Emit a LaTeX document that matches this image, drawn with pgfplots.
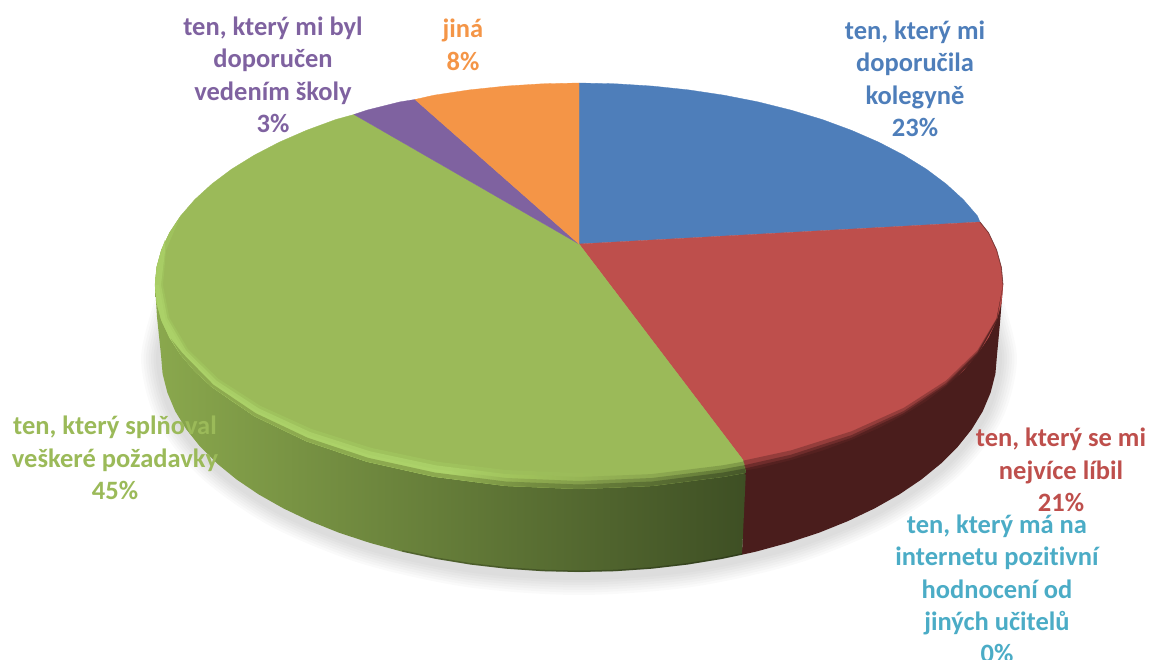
\documentclass[border=0pt]{standalone}
\usepackage{pgfplots}
\pgfplotsset{compat=1.18}
\usepackage{fontspec}
\setmainfont{Carlito}[Ligatures=NoCommon]
\definecolor{cblue}{HTML}{4E7EBA}
\definecolor{cred}{HTML}{BE4F4C}
\definecolor{cgreen}{HTML}{9BBA59}
\definecolor{cpurple}{HTML}{7F62A0}
\definecolor{corange}{HTML}{F49547}
\definecolor{cteal}{HTML}{4BACC6}
\definecolor{rside}{HTML}{4A1D1C}
\definecolor{gl}{HTML}{8AA84D}
\definecolor{gm}{HTML}{6C863D}
\definecolor{gr}{HTML}{3E4F24}
\pgfdeclarehorizontalshading{rimA}{100bp}{rgb(0bp)=(0.625,0.76,0.365); rgb(50bp)=(0.625,0.76,0.365); rgb(56bp)=(0.615,0.745,0.355); rgb(63bp)=(0.608,0.729,0.349); rgb(100bp)=(0.608,0.729,0.349)}
\pgfdeclarehorizontalshading{rimB}{100bp}{rgb(0bp)=(0.65,0.796,0.388); rgb(50bp)=(0.665,0.812,0.404); rgb(56bp)=(0.627,0.761,0.357); rgb(63bp)=(0.576,0.690,0.329); rgb(75bp)=(0.498,0.604,0.282); rgb(100bp)=(0.498,0.604,0.282)}
\pgfdeclarehorizontalshading{rimC}{100bp}{rgb(0bp)=(0.663,0.812,0.4); rgb(50bp)=(0.675,0.824,0.412); rgb(56bp)=(0.565,0.678,0.314); rgb(63bp)=(0.494,0.592,0.282); rgb(75bp)=(0.373,0.463,0.208); rgb(100bp)=(0.373,0.463,0.208)}
\pgfdeclarehorizontalshading{rimD}{100bp}{rgb(0bp)=(0.557,0.675,0.314); rgb(50bp)=(0.549,0.663,0.31); rgb(56bp)=(0.459,0.557,0.255); rgb(63bp)=(0.392,0.478,0.22); rgb(75bp)=(0.275,0.345,0.161); rgb(100bp)=(0.275,0.345,0.161)}
\begin{document}
\begin{tikzpicture}
\begin{axis}[name=a,width=1152pt,height=660pt,scale only axis,hide axis,
  xmin=0,xmax=1152,ymin=0,ymax=660,y dir=reverse,clip=false]
% shadow
\pgfplotsset{shadowlayer/.style={smooth,draw=none,fill=black,fill opacity=0.018}}
\addplot[shadowlayer] coordinates {(1002.1,296.7)(1017,358)(1002.1,419.3)(958.3,476.5)(888.7,525.6)(798,563.2)(692.4,586.9)(579,595)(465.6,586.9)(360,563.2)(269.3,525.6)(199.7,476.5)(155.9,419.3)(141,358)(155.9,296.7)};
\addplot[shadowlayer] coordinates {(999.65,297.35)(1014.5,358)(999.65,418.65)(956.15,475.25)(886.95,523.8)(796.75,561.05)(691.75,584.5)(579,592.5)(466.25,584.5)(361.25,561.05)(271.05,523.8)(201.85,475.25)(158.35,418.65)(143.5,358)(158.35,297.35)};
\addplot[shadowlayer] coordinates {(997.2,298)(1012,358)(997.2,418)(954,474)(885.2,522)(795.5,558.9)(691.1,582.1)(579,590)(466.9,582.1)(362.5,558.9)(272.8,522)(204,474)(160.8,418)(146,358)(160.8,298)};
\addplot[shadowlayer] coordinates {(994.8,298.6)(1009.5,358)(994.8,417.4)(951.8,472.75)(883.4,520.25)(794.25,556.75)(690.45,579.7)(579,587.5)(467.55,579.7)(363.75,556.75)(274.6,520.25)(206.2,472.75)(163.2,417.4)(148.5,358)(163.2,298.6)};
\addplot[shadowlayer] coordinates {(992.4,299.2)(1007,358)(992.4,416.8)(949.6,471.5)(881.6,518.5)(793,554.6)(689.8,577.3)(579,585)(468.2,577.3)(365,554.6)(276.4,518.5)(208.4,471.5)(165.6,416.8)(151,358)(165.6,299.2)};
\addplot[shadowlayer] coordinates {(990,299.85)(1004.5,358)(990,416.15)(947.45,470.25)(879.85,516.75)(791.75,552.45)(689.15,574.85)(579,582.5)(468.85,574.85)(366.25,552.45)(278.15,516.75)(210.55,470.25)(168,416.15)(153.5,358)(168,299.85)};
\addplot[shadowlayer] coordinates {(987.6,300.5)(1002,358)(987.6,415.5)(945.3,469)(878.1,515)(790.5,550.3)(688.5,572.4)(579,580)(469.5,572.4)(367.5,550.3)(279.9,515)(212.7,469)(170.4,415.5)(156,358)(170.4,300.5)};
% red side
\addplot[draw=none,fill=rside] coordinates {(1003,285)(1000,323)(997,355)(995.4,373.9)(990.6,392.7)(982.8,411.2)(971.8,429.2)(957.8,446.7)(941,463.5)(921.4,479.5)(899.2,494.5)(874.6,508.4)(847.7,521.2)(818.8,532.8)(788,542.9)(755.7,551.7)(742,554.7)(745,465)(800,350)} -- cycle;
% green side
\addplot[draw=none,left color=gl,middle color=gm,right color=gr] coordinates {(155,285)(157,317)(161,355)(162.6,373.9)(167.4,392.7)(175.2,411.2)(186.2,429.2)(200.2,446.7)(217,463.5)(236.6,479.5)(258.8,494.5)(283.4,508.4)(310.3,521.2)(339.2,532.8)(370,542.9)(402.3,551.7)(436,558.9)(470.8,564.6)(506.4,568.7)(542.6,571.2)(579,572)(615.4,571.2)(651.6,568.7)(687.2,564.6)(722,558.9)(742,554.7)(746,470)(579,300)} -- cycle;
\addplot[draw=black,draw opacity=0.22,line width=1.6pt] coordinates {(402.3,551)(436,558.2)(470.8,563.9)(506.4,568)(542.6,570.5)(579,571.3)(615.4,570.5)(651.6,568)(687.2,563.9)(722,558.2)(742,554)};
% top faces
\addplot[draw=cblue,line width=.3pt,fill=cblue] coordinates {(579,244)(579,83)(616,83.8)(652.6,86.1)(688.7,89.9)(724,95.2)(758.2,101.9)(791,110.1)(822.2,119.5)(851.5,130.3)(878.8,142.2)(903.8,155.2)(926.3,169.1)(946.2,184)(963.3,199.6)(977.4,215.9)(980,222)} -- cycle;
\addplot[draw=cred,line width=.3pt,fill=cred] coordinates {(579,244)(980,222)(988.5,232.7)(996.6,249.9)(1001.4,267.4)(1003,285)(1001.4,302.6)(996.6,320.1)(988.5,337.3)(977.4,354.1)(963.3,370.4)(946.2,386)(926.3,400.9)(903.8,414.8)(878.8,427.8)(851.5,439.7)(822.2,450.5)(791,459.9)(758.2,468.1)(746,470)(743,460)} -- cycle;
\addplot[draw=cgreen,line width=.3pt,fill=cgreen] coordinates {(579,244)(743,460)(746,470)(724,474.8)(688.7,480.1)(652.6,483.9)(616,486.2)(579,487)(542,486.2)(505.4,483.9)(469.3,480.1)(434,474.8)(399.8,468.1)(367,459.9)(335.8,450.5)(306.5,439.7)(279.2,427.8)(254.2,414.8)(231.7,400.9)(211.8,386)(194.7,370.4)(180.6,354.1)(169.5,337.3)(161.4,320.1)(156.6,302.6)(155,285)(156.6,267.4)(161.4,249.9)(169.5,232.7)(180.6,215.9)(194.7,199.6)(211.8,184)(231.7,169.1)(254.2,155.2)(279.2,142.2)(306.5,130.3)(335.8,119.5)(354,114.5)} -- cycle;
\addplot[draw=cpurple,line width=.3pt,fill=cpurple] coordinates {(579,244)(354,114.5)(367,110.1)(399.8,101.9)(415,99.5)} -- cycle;
\addplot[draw=corange,line width=.3pt,fill=corange] coordinates {(579,244)(415,99.5)(434,95.2)(469.3,89.9)(505.4,86.1)(542,83.8)(579,83)} -- cycle;
% red rim fade
\addplot[draw=none,fill=rside,fill opacity=0.35] coordinates {(1003,285)(996.6,320.8)(977.4,355.5)(946.2,388)(903.8,417.4)(851.5,442.8)(791,463.4)(745,474.6)(743,460.7)(791,450.4)(851.5,431.3)(903.8,407.8)(946.2,380.5)(977.4,350.3)(996.6,318.2)} -- cycle;
\addplot[draw=none,fill=rside,fill opacity=0.5] coordinates {(1003,285)(996.6,320.8)(977.4,355.5)(946.2,388)(903.8,417.4)(851.5,442.8)(791,463.4)(745,474.6)(744,465.3)(791,454.7)(851.5,435.1)(903.8,411)(946.2,383)(977.4,352)(996.6,319)} -- cycle;
\addplot[draw=none,fill=rside,fill opacity=0.7] coordinates {(1003,285)(996.6,320.8)(977.4,355.5)(946.2,388)(903.8,417.4)(851.5,442.8)(791,463.4)(745,474.6)(745,468.5)(791,457.8)(851.5,437.8)(903.8,413.2)(946.2,384.8)(977.4,353.2)(996.6,319.6)} -- cycle;
\addplot[draw=rside,draw opacity=0.6,line width=.8pt] coordinates {(980,222)(988.5,232.7)(996.6,249.9)(1001.4,267.4)(1003,285)};
% green rim
\addplot[draw=none,shade,shading=rimA] coordinates {(746,472.7)(724,476.7)(652.6,485.9)(579,489)(505.4,485.9)(434,476.7)(367,461.7)(306.5,441.3)(254.2,416.1)(211.8,387)(194.7,371.2)(180.6,354.8)(169.5,337.8)(161.4,320.4)(156.6,302.8)(155,285)(156.6,267.4)(161.4,249.9)(169.5,232.7)(180.6,215.9)(166,250.5)(163,285)(169.3,317.6)(188.1,349.3)(218.7,379)(260.3,405.8)(311.6,429)(371,447.8)(436.7,461.7)(506.8,470.1)(579,473)(651.2,470.1)(721.3,461.7)(741,458)} -- cycle;
\addplot[draw=none,shade,shading=rimB] coordinates {(746,472.7)(724,476.7)(652.6,485.9)(579,489)(505.4,485.9)(434,476.7)(367,461.7)(306.5,441.3)(254.2,416.1)(211.8,387)(194.7,371.2)(180.6,354.8)(169.5,337.8)(161.4,320.4)(156.6,302.8)(155,285)(156.6,267.4)(161.4,249.9)(165,240)(165,251.5)(161,285)(167.4,318.3)(186.2,350.7)(217,381)(258.8,408.4)(310.3,432.1)(370,451.3)(436,465.4)(506.4,474.1)(579,477)(651.6,474.1)(722,465.4)(743,461.7)} -- cycle;
\addplot[draw=none,shade,shading=rimC] coordinates {(746,472.7)(724,476.7)(652.6,485.9)(579,489)(505.4,485.9)(434,476.7)(367,461.7)(306.5,441.3)(254.2,416.1)(211.8,387)(194.7,371.2)(180.6,354.8)(169.5,337.8)(161.4,320.4)(156.6,302.8)(155.5,285)(159,285)(165.4,319)(184.3,352)(215.3,383)(257.3,411)(309,435.1)(369,454.7)(435.4,469.2)(506.1,478)(579,481)(651.9,478)(722.6,469.2)(744,465.3)} -- cycle;
\addplot[draw=none,shade,shading=rimD] coordinates {(746,472.7)(724,476.7)(652.6,485.9)(579,489)(505.4,485.9)(434,476.7)(367,461.7)(306.5,441.3)(254.2,416.1)(211.8,387)(194.7,371.2)(180.6,354.8)(171,339)(182.5,353.2)(213.5,384.8)(255.7,413.2)(307.7,437.8)(368,457.8)(434.7,472.5)(505.7,481.5)(579,484.5)(652.3,481.5)(723.3,472.5)(745,468.5)} -- cycle;
% labels
\tikzset{lab/.style={font=\fontsize{26.5}{32.4}\selectfont\bfseries,align=center,inner sep=0pt}}
\node[lab,text=cblue] at (axis cs:915,79) {ten, který mi\\doporučila\\kolegyně\\23\%};
\node[lab,text=cred] at (axis cs:1061,470) {ten, který se mi\\nejvíce líbil\\21\%};
\node[lab,text=cteal] at (axis cs:997,589) {ten, který má na\\internetu pozitivní\\hodnocení od\\jiných učitelů\\0\%};
\node[lab,text=cgreen] at (axis cs:115,458) {ten, který splňoval\\veškeré požadavky\\45\%};
\node[lab,text=cpurple] at (axis cs:273,75) {ten, který mi byl\\doporučen\\vedením školy\\3\%};
\node[lab,text=corange] at (axis cs:463,45) {jiná\\8\%};
\end{axis}
\pgfresetboundingbox
\path (a.south west) rectangle (a.north east);
\end{tikzpicture}
\end{document}
